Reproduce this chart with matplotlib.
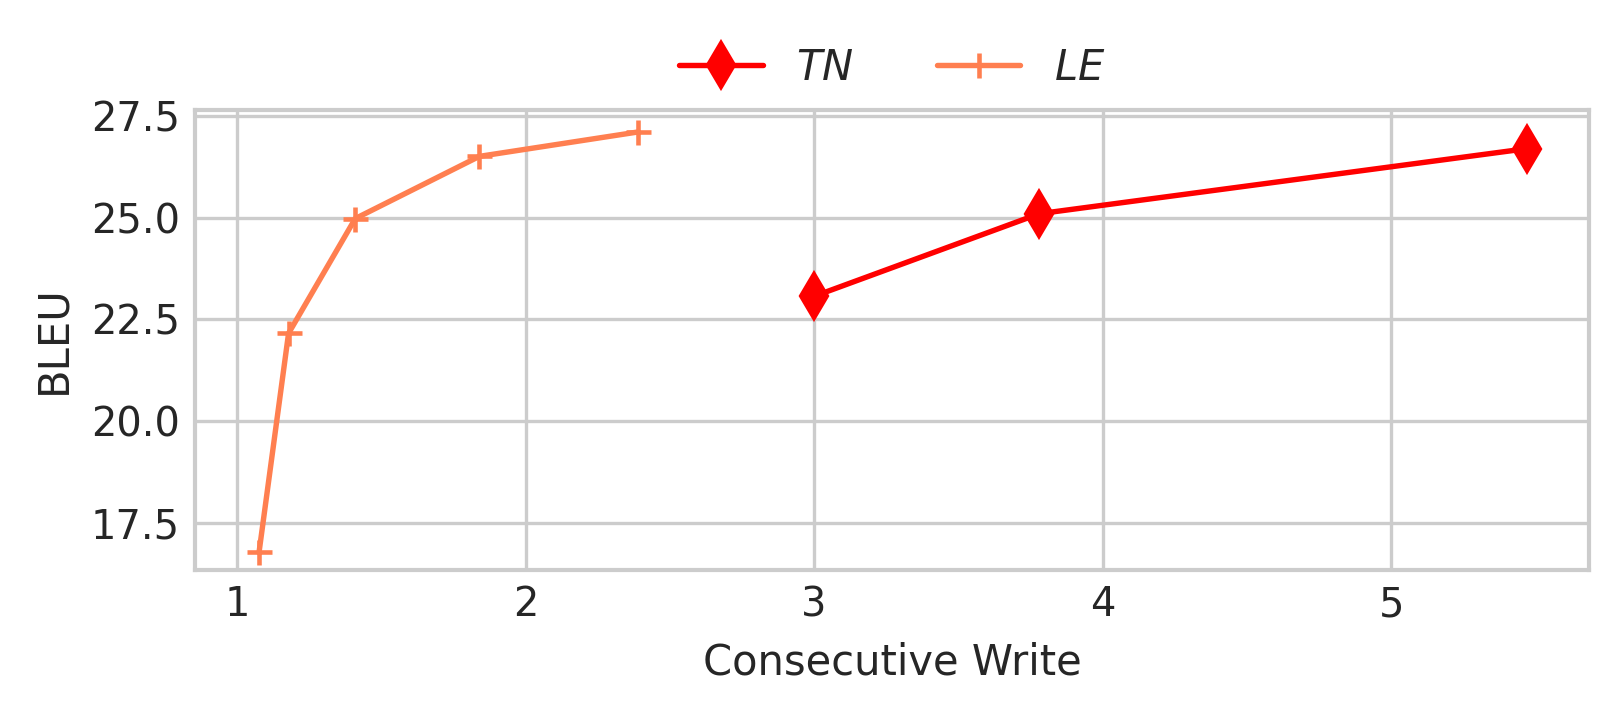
import matplotlib
matplotlib.use("Agg")
import matplotlib.pyplot as plt
import seaborn as sns

# data
tn_x = [3.0, 3.78, 5.47]
tn_bleu = [23.07, 25.1, 26.7]
le_x = [1.077, 1.179, 1.41, 1.84, 2.39]
le_bleu = [16.79, 22.16, 24.98, 26.51, 27.11]

sns.set_theme(style="whitegrid", context="paper")

fig = plt.figure(figsize=(5.4, 718 / 300), dpi=300)
ax = fig.add_axes([0.1204, 0.2061, 0.9811 - 0.1204, 0.8468 - 0.2061])

ax.plot(tn_x, tn_bleu, color="red", marker="d", markersize=7.5, linewidth=1.3, label="$TN$")
ax.plot(le_x, le_bleu, color="coral", marker="+", markersize=6, markeredgewidth=1.1,
        linewidth=1.3, label="$LE$")

ax.set_xlim(0.855, 5.686)
ax.set_ylim(16.34, 27.65)
ax.set_yticks([17.5, 20.0, 22.5, 25.0, 27.5])
ax.set_xticks([1, 2, 3, 4, 5])
ax.set_xlabel("Consecutive Write", fontsize=10)
ax.set_ylabel("BLEU", fontsize=10)
ax.tick_params(labelsize=9.6, length=0, pad=3.6)
ax.grid(linewidth=0.8)

ax.legend(loc="lower center", bbox_to_anchor=(0.5, 0.964), ncol=2, frameon=False, fontsize=10)

fig.savefig("out.png", dpi=300)
